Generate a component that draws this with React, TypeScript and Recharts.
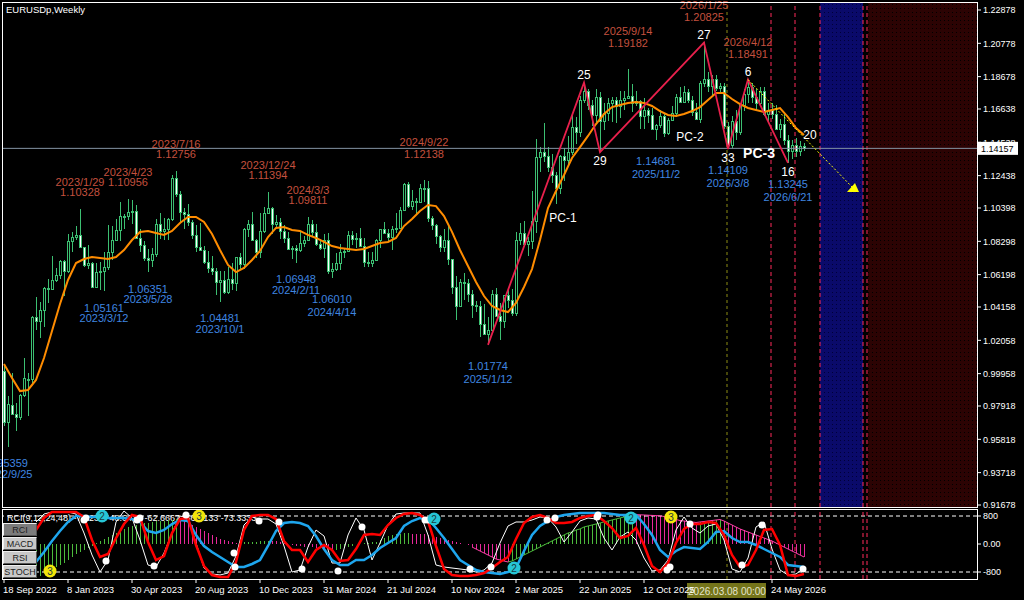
import React from "react";
import {
  ComposedChart,
  Bar,
  Line,
  XAxis,
  YAxis,
  ReferenceLine,
  ReferenceArea,
  ReferenceDot,
} from "recharts";

const FONT = '"Liberation Sans", Arial, sans-serif';

// weekly bars, bar 0 = week of 2022/9/18
const OPEN = [
  1.0015, 0.969, 0.98, 0.974, 0.9723, 0.9862, 0.996, 0.996, 1.0355, 1.0325,
  1.04, 1.0535, 1.053, 1.0585, 1.062, 1.0705, 1.0645, 1.083, 1.0855, 1.087,
  1.0795, 1.068, 1.0695, 1.0545, 1.0635, 1.064, 1.067, 1.076, 1.084, 1.09,
  1.099, 1.099, 1.1015, 1.102, 1.085, 1.0805, 1.0725, 1.071, 1.075, 1.094,
  1.0895, 1.091, 1.097, 1.123, 1.1125, 1.1015, 1.1005, 1.095, 1.087, 1.0795,
  1.0775, 1.07, 1.066, 1.0645, 1.0575, 1.0585, 1.051, 1.0595, 1.0565, 1.073,
  1.0685, 1.091, 1.094, 1.084, 1.076, 1.0895, 1.101, 1.104, 1.094, 1.095,
  1.0895, 1.085, 1.078, 1.0785, 1.0775, 1.082, 1.084, 1.094, 1.089, 1.081,
  1.079, 1.084, 1.064, 1.0655, 1.0695, 1.076, 1.077, 1.087, 1.0845, 1.085,
  1.08, 1.07, 1.069, 1.0715, 1.084, 1.0905, 1.0885, 1.0855, 1.091, 1.0915,
  1.103, 1.119, 1.105, 1.1085, 1.1075, 1.1165, 1.1165, 1.0975, 1.0935, 1.0865,
  1.0795, 1.0835, 1.072, 1.054, 1.042, 1.0575, 1.0565, 1.05, 1.043, 1.0425,
  1.031, 1.0245, 1.027, 1.0495, 1.036, 1.033, 1.049, 1.046, 1.0375, 1.0835,
  1.088, 1.0815, 1.083, 1.096, 1.136, 1.1395, 1.1365, 1.13, 1.125, 1.1165,
  1.1365, 1.1345, 1.1395, 1.155, 1.152, 1.172, 1.178, 1.169, 1.1625, 1.174,
  1.159, 1.164, 1.17, 1.172, 1.1685, 1.172, 1.1735, 1.1745, 1.17, 1.1715,
  1.162, 1.1655, 1.1625, 1.1535, 1.1565, 1.162, 1.1515, 1.1595, 1.164, 1.174,
  1.171, 1.177, 1.172, 1.1645, 1.16, 1.183, 1.1855, 1.1808, 1.1855, 1.1795,
  1.181, 1.1555, 1.144, 1.159, 1.152, 1.169, 1.176, 1.18, 1.174, 1.17,
  1.178, 1.163, 1.166, 1.163, 1.154, 1.157, 1.147, 1.14, 1.144, 1.14,
  1.143,
];
const HIGH = [
  1.0051, 0.9853, 0.9999, 0.9809, 0.987, 1.0094, 1.0, 1.036, 1.0481, 1.045,
  1.0545, 1.0595, 1.0737, 1.066, 1.0713, 1.0713, 1.0873, 1.0887, 1.0929, 1.1033,
  1.0795, 1.0805, 1.07, 1.069, 1.07, 1.076, 1.093, 1.0925, 1.0973, 1.1076,
  1.1, 1.1096, 1.109, 1.106, 1.0905, 1.083, 1.078, 1.079, 1.097, 1.101,
  1.0976, 1.0975, 1.1245, 1.1276, 1.115, 1.104, 1.1065, 1.0965, 1.093, 1.0945,
  1.08, 1.077, 1.0735, 1.066, 1.064, 1.064, 1.067, 1.0695, 1.073, 1.0755,
  1.0915, 1.0965, 1.1017, 1.0845, 1.101, 1.1045, 1.1139, 1.1045, 1.0998, 1.0975,
  1.0935, 1.089, 1.08, 1.0805, 1.089, 1.0865, 1.0981, 1.0965, 1.094, 1.0845,
  1.0875, 1.0885, 1.069, 1.0755, 1.081, 1.079, 1.0895, 1.0895, 1.0885, 1.0915,
  1.085, 1.076, 1.076, 1.0845, 1.091, 1.095, 1.0905, 1.0925, 1.101, 1.1045,
  1.12, 1.1202, 1.1155, 1.11, 1.119, 1.1214, 1.121, 1.099, 1.094, 1.087,
  1.0905, 1.0935, 1.072, 1.061, 1.0595, 1.063, 1.0595, 1.0525, 1.0455, 1.0455,
  1.0435, 1.0355, 1.052, 1.0535, 1.044, 1.049, 1.053, 1.053, 1.089, 1.0945,
  1.0955, 1.086, 1.1145, 1.1475, 1.1425, 1.1575, 1.1425, 1.138, 1.1265, 1.1375,
  1.142, 1.1495, 1.163, 1.1615, 1.1745, 1.183, 1.179, 1.172, 1.179, 1.177,
  1.17, 1.173, 1.174, 1.174, 1.178, 1.178, 1.1918, 1.182, 1.178, 1.172,
  1.173, 1.167, 1.167, 1.157, 1.1655, 1.163, 1.161, 1.168, 1.176, 1.1805,
  1.181, 1.179, 1.1745, 1.17, 1.184, 1.2083, 1.19, 1.188, 1.1875, 1.183,
  1.183, 1.158, 1.162, 1.166, 1.17, 1.179, 1.1849, 1.183, 1.179, 1.18,
  1.18, 1.17, 1.17, 1.169, 1.16, 1.164, 1.15, 1.147, 1.148, 1.146,
  1.145,
];
const LOW = [
  0.9668, 0.9536, 0.9736, 0.9632, 0.9705, 0.9849, 0.973, 0.9935, 1.027, 1.0223,
  1.029, 1.0443, 1.052, 1.0575, 1.059, 1.0483, 1.063, 1.0765, 1.0835, 1.0795,
  1.067, 1.0655, 1.0535, 1.0533, 1.0525, 1.0516, 1.065, 1.071, 1.083, 1.083,
  1.091, 1.0965, 1.094, 1.085, 1.076, 1.0705, 1.0635, 1.0665, 1.073, 1.0845,
  1.0835, 1.0835, 1.096, 1.111, 1.0945, 1.091, 1.0925, 1.0845, 1.0765, 1.0775,
  1.0685, 1.063, 1.0615, 1.049, 1.0448, 1.0495, 1.0495, 1.0525, 1.0515, 1.0655,
  1.0655, 1.0855, 1.083, 1.0725, 1.0725, 1.088, 1.1, 1.0875, 1.0915, 1.0845,
  1.082, 1.078, 1.072, 1.0695, 1.076, 1.0795, 1.0835, 1.0865, 1.08, 1.0775,
  1.0725, 1.0625, 1.0601, 1.064, 1.065, 1.0725, 1.0765, 1.0805, 1.079, 1.08,
  1.067, 1.067, 1.0665, 1.071, 1.079, 1.088, 1.0825, 1.0775, 1.088, 1.091,
  1.102, 1.104, 1.1025, 1.0995, 1.107, 1.108, 1.095, 1.09, 1.081, 1.076,
  1.076, 1.068, 1.0495, 1.0335, 1.042, 1.046, 1.045, 1.0345, 1.0385, 1.0225,
  1.024, 1.0177, 1.0265, 1.036, 1.021, 1.0285, 1.041, 1.036, 1.036, 1.0805,
  1.08, 1.0735, 1.078, 1.088, 1.1265, 1.133, 1.1265, 1.1195, 1.1065, 1.113,
  1.121, 1.132, 1.1375, 1.1445, 1.149, 1.17, 1.166, 1.1555, 1.158, 1.1392,
  1.153, 1.1585, 1.158, 1.1575, 1.161, 1.166, 1.1725, 1.1645, 1.168, 1.154,
  1.154, 1.1575, 1.153, 1.1468, 1.1545, 1.149, 1.15, 1.1585, 1.1615, 1.17,
  1.17, 1.17, 1.162, 1.1595, 1.1575, 1.18, 1.177, 1.175, 1.178, 1.176,
  1.154, 1.1411, 1.142, 1.147, 1.15, 1.165, 1.17, 1.17, 1.166, 1.168,
  1.162, 1.158, 1.16, 1.153, 1.148, 1.144, 1.1325, 1.135, 1.136, 1.137,
  1.14,
];
const CLOSE = [
  0.969, 0.9802, 0.974, 0.9723, 0.9862, 0.9966, 0.996, 1.0355, 1.0325, 1.04,
  1.0535, 1.053, 1.0585, 1.062, 1.0705, 1.0645, 1.083, 1.0855, 1.087, 1.0795,
  1.068, 1.0695, 1.0545, 1.0635, 1.064, 1.067, 1.076, 1.084, 1.09, 1.099,
  1.099, 1.1015, 1.102, 1.085, 1.0805, 1.0725, 1.071, 1.075, 1.094, 1.0895,
  1.091, 1.097, 1.123, 1.1125, 1.1015, 1.1005, 1.095, 1.087, 1.0795, 1.0775,
  1.07, 1.066, 1.0645, 1.0575, 1.0585, 1.051, 1.0595, 1.0565, 1.073, 1.0685,
  1.091, 1.094, 1.084, 1.076, 1.0895, 1.101, 1.104, 1.094, 1.095, 1.0895,
  1.085, 1.078, 1.0785, 1.0775, 1.082, 1.084, 1.094, 1.089, 1.081, 1.079,
  1.084, 1.064, 1.0655, 1.0695, 1.076, 1.077, 1.087, 1.0845, 1.085, 1.08,
  1.07, 1.069, 1.0715, 1.084, 1.0905, 1.0885, 1.0855, 1.091, 1.0915, 1.103,
  1.119, 1.105, 1.1085, 1.1075, 1.1165, 1.1165, 1.0975, 1.0935, 1.0865, 1.0795,
  1.0835, 1.072, 1.054, 1.042, 1.0575, 1.0565, 1.05, 1.043, 1.0425, 1.031,
  1.0245, 1.027, 1.0495, 1.036, 1.033, 1.049, 1.046, 1.0375, 1.0835, 1.088,
  1.0815, 1.083, 1.096, 1.136, 1.1395, 1.1365, 1.13, 1.125, 1.1165, 1.1365,
  1.1345, 1.1395, 1.155, 1.152, 1.172, 1.178, 1.169, 1.1625, 1.174, 1.159,
  1.164, 1.17, 1.172, 1.1685, 1.172, 1.1735, 1.1745, 1.17, 1.1715, 1.162,
  1.1655, 1.1625, 1.1535, 1.1565, 1.162, 1.1515, 1.1595, 1.164, 1.174, 1.171,
  1.177, 1.172, 1.1645, 1.16, 1.183, 1.1855, 1.1808, 1.1855, 1.1795, 1.181,
  1.1555, 1.144, 1.159, 1.152, 1.169, 1.176, 1.18, 1.174, 1.17, 1.178,
  1.163, 1.166, 1.163, 1.154, 1.157, 1.147, 1.14, 1.144, 1.14, 1.143,
  1.1416,
];

// orange average, one value every 2 bars from bar 0
const MA = [
  1.0057, 0.9968, 0.9886, 0.9893, 0.9956, 1.0094, 1.0265, 1.0435, 1.0586, 1.0693,
  1.0718, 1.0731, 1.0725, 1.0718, 1.0731, 1.0775, 1.0838, 1.0889, 1.0895, 1.0882,
  1.087, 1.0895, 1.0945, 1.0983, 1.0983, 1.0952, 1.0876, 1.0775, 1.0681, 1.0636,
  1.0662, 1.0712, 1.0769, 1.0857, 1.0914, 1.092, 1.0901, 1.0895, 1.087, 1.0851,
  1.0826, 1.08, 1.0788, 1.0781, 1.0775, 1.0781, 1.08, 1.0819, 1.0826, 1.0851,
  1.0926, 1.0971, 1.1021, 1.1059, 1.1052, 1.0989, 1.0889, 1.0775, 1.0674, 1.0573,
  1.0485, 1.0422, 1.0397, 1.0384, 1.0441, 1.0542, 1.0655, 1.0838, 1.104, 1.1147,
  1.1248, 1.1355, 1.1424, 1.1494, 1.1569, 1.1632, 1.1676, 1.1689, 1.1702, 1.1708,
  1.1702, 1.1683, 1.1651, 1.1626, 1.162, 1.1632, 1.1651, 1.1676, 1.1721, 1.1765,
  1.1765, 1.1727, 1.1695, 1.167, 1.1658, 1.1645, 1.1658, 1.167, 1.1613, 1.1544,
  1.15,
];

// zigzag turning points
const ZZ_IDX = [121, 145, 149, 175, 181, 186, 196];
const ZZ_PRICE = [1.01774, 1.183, 1.1392, 1.20825, 1.14109, 1.18491, 1.13245];
const ZZ_NUM = ["", "25", "29", "27", "33", "6", "16"];

// swing notes
const HI_IDX = [19, 31, 43, 66, 76, 105, 156, 175, 186];
const HI_DATE = ["2023/1/29", "2023/4/23", "2023/7/16", "2023/12/24", "2024/3/3", "2024/9/22", "2025/9/14", "2026/1/25", "2026/4/12"];
const HI_PRICE = [1.10328, 1.10956, 1.12756, 1.11394, 1.09811, 1.12138, 1.19182, 1.20825, 1.18491];
const LO_IDX = [1, 25, 36, 54, 73, 82, 121, 163, 181, 196];
const LO_DATE = ["2022/9/25", "2023/3/12", "2023/5/28", "2023/10/1", "2024/2/11", "2024/4/14", "2025/1/12", "2025/11/2", "2026/3/8", "2026/6/21"];
const LO_PRICE = [0.95359, 1.05161, 1.06351, 1.04481, 1.06948, 1.0601, 1.01774, 1.14681, 1.14109, 1.13245];
const FAR_FROM = 82;

const PC_TEXT = ["PC-1", "PC-2", "PC-3"];
const PC_IDX = [139.75, 171.5, 188.75];
const PC_PRICE = [1.0977, 1.1487, 1.1386];

const ARROW_IDX = [186, 212.25];
const ARROW_PRICE = [1.18491, 1.1166];
const TARGET_TEXT = "20";
const TARGET_IDX = 201.5;
const TARGET_PRICE = 1.15;

const LAST_PRICE = 1.14157;
const PRICE_TICKS = [
  1.22878, 1.20778, 1.18678, 1.16638, 1.14538, 1.12438, 1.10398, 1.08298,
  1.06198, 1.04158, 1.02058, 0.99958, 0.97918, 0.95818, 0.93718, 0.91678,
];

const CURSOR_IDX = 180.75;
const CURSOR_LABEL = "2026.03.08 00:00";
const RED_LINES = [191.75, 197.75, 204, 214.75, 215.75];
const BLUE_ZONE = [204, 214.75];
const RED_ZONE = [216, 243.25];

// sub window
const OSC_START = 8;
// every 2 bars
const RCI_FAST = [
  400, 743, 914, 914, 914, 914, 771, 114, -371, -286,
  171, 571, 829, 771, 57, -457, -343, 314, 714, 743,
  -29, -629, -886, -943, -943, -514, 400, 800, 829, 829,
  714, 86, -171, -171, -514, -171, -29, -171, -486, -457,
  -143, 257, 286, 257, 543, 743, 857, 886, 829, 657,
  -57, -714, -886, -914, -914, -886, -829, -686, -514, -371,
  143, 600, 771, 829, 743, 600, 600, 629, 743, 800,
  829, 657, 457, 171, 229, 457, -29, -629, -800, -543,
  29, 429, 571, 571, 629, 600, 257, -314, -657, -600,
  -171, 400, 429, -29, -886, -914, -857,
];
const RCI_SLOW = [
  -514, -229, 86, 371, 629, 800, 800, 771, 771, 743,
  743, 743, 714, 629, 371, 314, 400, 571, 686, 657,
  257, -57, -229, -371, -514, -657, -657, -571, -457, -57,
  371, 600, 629, 600, 514, 229, -143, -457, -600, -600,
  -457, -457, -314, -114, 29, 171, 514, 657, 743, 714,
  457, 171, -143, -457, -600, -743, -800, -829, -857, -800,
  -686, -200, 257, 514, 657, 771, 829, 857, 886, 886,
  886, 886, 857, 829, 829, 829, 571, 257, -171, -371,
  -200, -86, -114, -143, 57, 343, 371, 171, 57, 57,
  -29, -143, -257, -371, -600, -629, -657,
];
const STOCH = [
  629, 857, 914, 914, 914, 857, 314, -314, -800, -457,
  629, 943, 743, 114, -600, -657, -257, 314, 800, 743,
  29, -686, -857, -886, -829, -343, 543, 771, 714, 714,
  571, -57, -800, -743, -86, 400, 229, -543, -543, 257,
  743, 400, -457, 29, 543, 857, 886, 886, 886, 257,
  -600, -657, -686, -714, -743, -800, -743, -543, 29, 514,
  629, 629, 686, 771, 743, 486, 57, 343, 657, 743,
  714, 171, -171, 200, 343, 114, -400, -771, -743, -457,
  400, 771, 457, 314, 514, 571, 114, -714, -800, -400,
  486, 629, -143, -743, -886, -857, -686,
];
// every bar
const MACD = [
  -943, -914, -829, -771, -714, -657, -600, -543, -457, -371,
  -286, -229, -171, -114, -57, 29, 86, 143, 200, 257,
  314, 371, 429, 486, 514, 543, 571, 600, 614, 629,
  643, 657, 666, 674, 686, 714, 686, 657, 600, 543,
  486, 429, 371, 314, 257, 200, 143, 114, 86, 57,
  29, 34, 43, 51, 57, 66, 74, 86, 94, 89,
  80, 57, 29, 0, -29, -57, -71, -86, -91, -97,
  -103, -114, -143, -157, -171, -166, -143, -114, -86, -57,
  -14, 14, 29, 34, 43, 57, 114, 171, 229, 257,
  286, 300, 314, 314, 300, 290, 286, 280, 257, 229,
  200, 171, 143, 114, 86, 57, 29, 0, -29, -86,
  -143, -200, -257, -314, -371, -429, -457, -486, -514, -486,
  -429, -371, -314, -257, -200, -143, -86, -29, 29, 86,
  143, 200, 257, 314, 343, 400, 429, 486, 514, 543,
  571, 600, 629, 657, 686, 714, 743, 771, 800, 843,
  840, 834, 829, 823, 817, 811, 806, 786, 757, 729,
  700, 671, 657, 643, 629, 614, 629, 643, 657, 671,
  686, 700, 657, 600, 543, 486, 429, 386, 343, 300,
  257, 214, 171, 129, 86, 29, -29, -86, -143, -200,
  -257, -314, -371,
];
const DOT_IDX = [20, 20.5, 25.5, 33.25, 34, 37.5, 45.5, 57.5, 57.75, 63.75, 68.75, 74.5, 83.5, 89.5, 105.25, 106, 116.5, 121.75, 135.75, 137.75, 148.25, 148.5, 165.75, 166.5, 171.5, 184.5, 189.5, 199.75];
const DOT_VAL = [686, 743, -486, 686, 743, -629, 829, -257, -657, 657, 629, -714, -771, 486, 686, 686, -714, -657, 686, 743, 771, 829, -743, -657, 571, -600, 543, -714];
const BADGE_IDX = [11.5, 24.5, 48.75, 107.5, 127.5, 156.75, 166.75];
const BADGE_VAL = [-771, 800, 800, 714, -686, 743, 771];
const BADGE_NUM = ["3", "2", "3", "2", "2", "2", "3"];
const SUB_TICKS = [800, 0, -800];
const SUB_TITLE = "RCI(9,12,24,48) -7.2232 -48.6437 -62.6667 -56.7133 -73.3333";
const BUTTONS = ["RCI", "MACD", "RSI", "STOCH"];

const TIME_TICKS = [0, 16, 32, 48, 64, 80, 96, 112, 128, 144, 160, 192];
const TIME_LABELS = [
  "18 Sep 2022", "8 Jan 2023", "30 Apr 2023", "20 Aug 2023", "10 Dec 2023",
  "31 Mar 2024", "21 Jul 2024", "10 Nov 2024", "2 Mar 2025", "22 Jun 2025",
  "12 Oct 2025", "24 May 2026",
];

const X_DOMAIN = [-0.5, 243.25];
const Y_DOMAIN = [0.91552, 1.23382];

const CANDLE = "#3cbf72";
const HI_COLOR = "#c4503e";
const LO_COLOR = "#3f86e0";

const bars = CLOSE.map((c, i) => ({ i, o: OPEN[i], h: HIGH[i], l: LOW[i], c }));
const maData = MA.map((v, k) => ({ i: k * 2, ma: v }));
const zzData = ZZ_IDX.map((i, k) => ({ i, p: ZZ_PRICE[k] }));
const arrowData = ARROW_IDX.map((i, k) => ({ i, p: ARROW_PRICE[k] }));
const oscData = RCI_FAST.map((v, k) => ({
  i: OSC_START + k * 2,
  fast: v,
  slow: RCI_SLOW[k],
  stoch: STOCH[k],
}));
const macdData = MACD.map((v, k) => ({
  i: OSC_START + k,
  m: v,
  up: k === 0 || v >= MACD[k - 1],
}));
const sigPink1 = macdData.filter((d) => d.i >= 117 && d.i <= 126);
const sigGreen = macdData.filter((d) => d.i >= 126 && d.i <= 157);
const sigPink2 = macdData.filter((d) => d.i >= 157);

function Candle(props: any) {
  const { x, y, width, height, payload } = props;
  if (!payload || height == null) return null;
  const top = Math.min(y, y + height);
  const bottom = Math.max(y, y + height);
  const span = payload.h - payload.l;
  const at = (v: number) => (span > 0 ? top + ((payload.h - v) / span) * (bottom - top) : top);
  const bTop = Math.round(at(Math.max(payload.o, payload.c)));
  const bBot = Math.round(at(Math.min(payload.o, payload.c)));
  const cx = Math.round(x + width / 2) + 0.5;
  const bull = payload.c >= payload.o;
  return (
    <g shapeRendering="crispEdges">
      <line x1={cx} x2={cx} y1={top} y2={bottom} stroke={CANDLE} />
      <rect
        x={cx - 1}
        y={bTop + 0.5}
        width={2}
        height={Math.max(bBot - bTop, 1)}
        fill={bull ? "#000" : "#fff"}
        stroke={CANDLE}
      />
    </g>
  );
}

function MacdStick(props: any) {
  const { x, y, width, height, payload } = props;
  if (!payload || height == null) return null;
  const cx = Math.round(x + width / 2) + 0.5;
  return (
    <line
      x1={cx}
      x2={cx}
      y1={Math.min(y, y + height)}
      y2={Math.max(y, y + height)}
      stroke={payload.up ? "#4cbb3c" : "#e8289a"}
      shapeRendering="crispEdges"
    />
  );
}

type TextLine = { text: string; dy: number; color: string; size: number; weight?: string };

function textLabel(lines: TextLine[], dx = 0) {
  return (props: any) => {
    const vb = props.viewBox || {};
    const cx = (vb.x || 0) + (vb.width || 0) / 2 + dx;
    const cy = (vb.y || 0) + (vb.height || 0) / 2;
    return (
      <g>
        {lines.map((ln, k) => (
          <text
            key={k}
            x={cx}
            y={cy + ln.dy}
            textAnchor="middle"
            dominantBaseline="central"
            fill={ln.color}
            fontSize={ln.size}
            fontWeight={ln.weight || "normal"}
            fontFamily={FONT}
          >
            {ln.text}
          </text>
        ))}
      </g>
    );
  };
}

function priceTag(props: any) {
  const vb = props.viewBox || {};
  const x = (vb.x || 0) + (vb.width || 0);
  const y = vb.y || 0;
  return (
    <g>
      <rect x={x + 1} y={y - 6.5} width={40} height={13} fill="#fff" />
      <text x={x + 4} y={y + 0.5} dominantBaseline="central" fontSize={9} fill="#000" fontFamily={FONT}>
        {LAST_PRICE.toFixed(5)}
      </text>
    </g>
  );
}

function cursorTag(props: any) {
  const vb = props.viewBox || {};
  const x = vb.x || 0;
  const y = (vb.y || 0) + (vb.height || 0);
  return (
    <g>
      <rect x={x - 40} y={y + 4} width={79} height={15} fill="#74741a" />
      <text x={x} y={y + 12} textAnchor="middle" dominantBaseline="central" fontSize={10} fill="#e4e4cc" fontFamily={FONT}>
        {CURSOR_LABEL}
      </text>
    </g>
  );
}

function TimeTick(props: any) {
  const { x, y, payload } = props;
  const k = TIME_TICKS.indexOf(payload.value);
  return (
    <text x={x - 1} y={y + 8} textAnchor="start" fill="#fff" fontSize={9.5} fontFamily={FONT}>
      {TIME_LABELS[k]}
    </text>
  );
}

function arrowDot(props: any) {
  const { cx, cy, index } = props;
  if (index !== ARROW_IDX.length - 1) return <g key={`ad${index}`} />;
  return (
    <polygon
      key="arrowhead"
      points={`${cx - 6},${cy + 4} ${cx + 6},${cy + 4} ${cx + 2},${cy - 5}`}
      fill="#ffff00"
    />
  );
}

export default function App() {
  return (
    <div
      style={{
        position: "fixed",
        left: 0,
        top: 0,
        width: 1024,
        height: 600,
        background: "#000",
        overflow: "hidden",
        fontFamily: FONT,
      }}
    >
      <div style={{ position: "absolute", left: 0, top: 0 }}>
        <ComposedChart width={1024} height={509} data={bars} margin={{ top: 2, right: 0, bottom: 2, left: 2 }}>
          <defs>
            <pattern id="blueDots" width="4" height="4" patternUnits="userSpaceOnUse">
              <rect width="4" height="4" fill="#0a0a6a" />
              <rect width="1" height="1" fill="#000038" />
            </pattern>
            <pattern id="redDots" width="4" height="4" patternUnits="userSpaceOnUse">
              <rect width="4" height="4" fill="#2c0303" />
              <rect width="1" height="1" fill="#000" />
            </pattern>
          </defs>
          <XAxis type="number" dataKey="i" domain={X_DOMAIN} allowDataOverflow hide />
          <YAxis
            orientation="right"
            width={47}
            domain={Y_DOMAIN}
            allowDataOverflow
            ticks={PRICE_TICKS}
            interval={0}
            tickSize={4}
            tickLine={{ stroke: "#fff" }}
            axisLine={false}
            tick={{ fill: "#fff", fontSize: 9, fontFamily: FONT }}
            tickFormatter={(v: number) => v.toFixed(5)}
          />
          <ReferenceArea x1={BLUE_ZONE[0]} x2={BLUE_ZONE[1]} fill="url(#blueDots)" fillOpacity={1} stroke="none" />
          <ReferenceArea x1={RED_ZONE[0]} x2={RED_ZONE[1]} fill="url(#redDots)" fillOpacity={1} stroke="none" />
          <ReferenceLine x={CURSOR_IDX} stroke="#8c8c14" strokeDasharray="3 3" />
          {RED_LINES.map((v) => (
            <ReferenceLine key={`rl${v}`} x={v} stroke="#ff2a5a" strokeDasharray="4 3" />
          ))}
          <ReferenceLine y={LAST_PRICE} stroke="#8494a4" label={priceTag} />
          <Bar dataKey={(d: any) => [d.l, d.h]} shape={Candle} barSize={3} isAnimationActive={false} />
          <Line data={maData} dataKey="ma" stroke="#ff8c00" strokeWidth={2} dot={false} isAnimationActive={false} />
          <Line data={zzData} dataKey="p" stroke="#e8204c" strokeWidth={1.8} dot={false} isAnimationActive={false} />
          <Line
            data={arrowData}
            dataKey="p"
            stroke="#ffff00"
            strokeWidth={1}
            strokeDasharray="2 2"
            dot={arrowDot}
            isAnimationActive={false}
          />
          {ZZ_IDX.map((i, k) =>
            ZZ_NUM[k] ? (
              <ReferenceDot
                key={`zz${k}`}
                x={i}
                y={ZZ_PRICE[k]}
                r={0}
                fill="none"
                stroke="none"
                ifOverflow="visible"
                label={textLabel([
                  {
                    text: ZZ_NUM[k],
                    dy: ZZ_PRICE[k] > ZZ_PRICE[k - 1] ? -8 : 9,
                    color: "#fff",
                    size: 12,
                  },
                ])}
              />
            ) : null
          )}
          {HI_IDX.map((i, k) => {
            const far = i >= FAR_FROM;
            return (
              <ReferenceDot
                key={`hi${k}`}
                x={i}
                y={HI_PRICE[k]}
                r={0}
                fill="none"
                stroke="none"
                ifOverflow="visible"
                label={textLabel([
                  { text: HI_PRICE[k].toFixed(5), dy: far ? -26 : -17, color: HI_COLOR, size: 11 },
                  { text: HI_DATE[k], dy: far ? -38 : -27, color: HI_COLOR, size: 11 },
                ])}
              />
            );
          })}
          {LO_IDX.map((i, k) => {
            const far = i >= FAR_FROM;
            return (
              <ReferenceDot
                key={`lo${k}`}
                x={i}
                y={LO_PRICE[k]}
                r={0}
                fill="none"
                stroke="none"
                ifOverflow="visible"
                label={textLabel([
                  { text: LO_PRICE[k].toFixed(5), dy: far ? 21 : 16.5, color: LO_COLOR, size: 11 },
                  { text: LO_DATE[k], dy: far ? 34 : 27, color: LO_COLOR, size: 11 },
                ])}
              />
            );
          })}
          {PC_TEXT.map((t, k) => (
            <ReferenceDot
              key={`pc${k}`}
              x={PC_IDX[k]}
              y={PC_PRICE[k]}
              r={0}
              fill="none"
              stroke="none"
              ifOverflow="visible"
              label={textLabel([
                {
                  text: t,
                  dy: 0,
                  color: "#fff",
                  size: k === 2 ? 14 : 12,
                  weight: k === 2 ? "bold" : "normal",
                },
              ])}
            />
          ))}
          <ReferenceDot
            x={TARGET_IDX}
            y={TARGET_PRICE}
            r={0}
            fill="none"
            stroke="none"
            ifOverflow="visible"
            label={textLabel([{ text: TARGET_TEXT, dy: 0, color: "#fff", size: 12 }])}
          />
        </ComposedChart>
      </div>

      <div style={{ position: "absolute", left: 6, top: 4, color: "#fff", fontSize: 9.5 }}>EURUSDp,Weekly</div>

      <div style={{ position: "absolute", left: 7, top: 513, color: "#fff", fontSize: 9, whiteSpace: "nowrap" }}>
        {SUB_TITLE}
      </div>

      <div style={{ position: "absolute", left: 0, top: 507 }}>
        <ComposedChart width={1024} height={93} data={macdData} margin={{ top: 2, right: 0, bottom: 0, left: 2 }}>
          <XAxis
            type="number"
            dataKey="i"
            domain={X_DOMAIN}
            allowDataOverflow
            ticks={TIME_TICKS}
            interval={0}
            height={21}
            tickSize={4}
            tickLine={{ stroke: "#fff" }}
            axisLine={false}
            tick={(p: any) => <TimeTick {...p} />}
          />
          <YAxis
            orientation="right"
            width={47}
            domain={[-1000, 1000]}
            allowDataOverflow
            ticks={SUB_TICKS}
            interval={0}
            tickSize={4}
            tickLine={{ stroke: "#fff" }}
            axisLine={false}
            tick={{ fill: "#fff", fontSize: 9, fontFamily: FONT }}
            tickFormatter={(v: number) => (v === 0 ? "0.00" : String(v))}
          />
          {SUB_TICKS.filter((v) => v !== 0).map((v) => (
            <ReferenceLine key={`sl${v}`} y={v} stroke="#fff" strokeDasharray="4 3" />
          ))}
          <ReferenceLine x={CURSOR_IDX} stroke="#8c8c14" strokeDasharray="3 3" label={cursorTag} />
          {RED_LINES.map((v) => (
            <ReferenceLine key={`srl${v}`} x={v} stroke="#ff2a5a" strokeDasharray="4 3" />
          ))}
          <Bar dataKey="m" shape={MacdStick} barSize={1} isAnimationActive={false} />
          <Line data={sigPink1} dataKey="m" stroke="#ff40a8" strokeWidth={1} dot={false} isAnimationActive={false} />
          <Line data={sigGreen} dataKey="m" stroke="#4cbb3c" strokeWidth={1} dot={false} isAnimationActive={false} />
          <Line data={sigPink2} dataKey="m" stroke="#ff40a8" strokeWidth={1} dot={false} isAnimationActive={false} />
          <Line data={oscData} dataKey="stoch" stroke="#fff" strokeWidth={1} dot={false} isAnimationActive={false} />
          <Line data={oscData} dataKey="slow" stroke="#1ea6ee" strokeWidth={2.5} dot={false} isAnimationActive={false} />
          <Line data={oscData} dataKey="fast" stroke="#ff0000" strokeWidth={2.5} dot={false} isAnimationActive={false} />
          {DOT_IDX.map((i, k) => (
            <ReferenceDot key={`d${k}`} x={i} y={DOT_VAL[k]} r={3.5} fill="#fff" stroke="none" ifOverflow="visible" />
          ))}
          {BADGE_IDX.map((i, k) => (
            <ReferenceDot
              key={`b${k}`}
              x={i}
              y={BADGE_VAL[k]}
              r={6.5}
              fill={BADGE_NUM[k] === "2" ? "#26c6d6" : "#f2e40a"}
              stroke="none"
              ifOverflow="visible"
              label={textLabel([{ text: BADGE_NUM[k], dy: 0.5, color: "#1a3a40", size: 10 }])}
            />
          ))}
        </ComposedChart>
      </div>

      <div
        style={{
          position: "absolute",
          left: 3,
          top: 523,
          width: 34,
          display: "flex",
          flexDirection: "column",
          gap: 1,
        }}
      >
        {BUTTONS.map((b, k) => (
          <div
            key={b}
            style={{
              height: 13,
              lineHeight: "13px",
              boxSizing: "border-box",
              background: k === 0 ? "#7c7c7c" : "#c8c8c8",
              borderTop: "1px solid #eee",
              borderLeft: "1px solid #eee",
              borderRight: "1px solid #555",
              borderBottom: "1px solid #555",
              color: "#222",
              fontSize: 9,
              textAlign: "center",
            }}
          >
            {b}
          </div>
        ))}
      </div>

      <div
        style={{
          position: "absolute",
          left: 2,
          top: 2,
          width: 976,
          height: 506,
          boxSizing: "border-box",
          border: "1px solid #fff",
          pointerEvents: "none",
        }}
      />
      <div
        style={{
          position: "absolute",
          left: 2,
          top: 509,
          width: 976,
          height: 71,
          boxSizing: "border-box",
          border: "1px solid #fff",
          pointerEvents: "none",
        }}
      />
    </div>
  );
}
